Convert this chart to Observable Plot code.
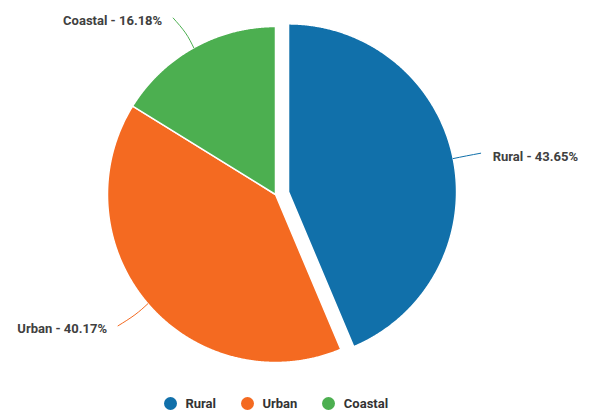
<!DOCTYPE html>
<html><head><meta charset="utf-8">
<script src="https://cdn.jsdelivr.net/npm/d3@7"></script>
<script src="https://cdn.jsdelivr.net/npm/@observablehq/plot@0.6"></script>
<style>
body{margin:0;background:#fff;font-family:Roboto,"Noto Sans",sans-serif}
#legend{display:flex;justify-content:center;align-items:center;width:552px;height:20px;margin-top:15px;font-weight:bold;font-size:13px;color:#333}
.item{display:flex;align-items:center;margin:0 12.5px}
.dot{width:13px;height:13px;border-radius:50%;margin-right:8.5px}
</style>
</head><body><div id="chart"></div><div id="legend"></div><script>
const categories = ["Rural", "Urban", "Coastal"];
const shares = [43.65, 40.17, 16.18];
const colors = ["#1170aa", "#f46a21", "#4caf50"];
const exploded = ["Rural"];

const W = 592, H = 378, CX = 275, CY = 194, R = 168, OFFSET = 13.3;
const pie = d3.pie().sort(null).value(d => d)(shares);

const slices = [], connectors = [], labels = [];
pie.forEach((p, i) => {
  const cat = categories[i];
  const mid = (p.startAngle + p.endAngle) / 2;
  const off = exploded.includes(cat) ? OFFSET / R : 0;
  const ox = off * Math.sin(mid), oy = off * Math.cos(mid);
  const pt = (a, rr) => ({x: ox + rr * Math.sin(a), y: oy + rr * Math.cos(a)});
  slices.push({cat, ...pt(0, 0)});
  const n = Math.ceil((p.endAngle - p.startAngle) / 0.005);
  for (let k = 0; k <= n; k++) {
    const a = p.startAngle + (p.endAngle - p.startAngle) * k / n;
    slices.push({cat, ...pt(a, 1)});
  }
  const side = Math.sin(mid) >= 0 ? 1 : -1;
  const dist = side > 0 ? 27 : 34, tail = side > 0 ? 1 : 4;
  const e0 = pt(mid, 1), e1 = pt(mid, 1 + dist * 0.5 / R), e2 = pt(mid, 1 + dist / R);
  const end = {x: e2.x + side * tail / R, y: e2.y};
  [e0, e1, end].forEach(q => connectors.push({cat, ...q}));
  labels.push({cat, side, x: end.x, y: end.y, text: `${cat} - ${shares[i].toFixed(2)}%`});
});

const chart = Plot.plot({
  width: W, height: H,
  margin: 0,
  x: {domain: [-CX / R, (W - CX) / R], axis: null},
  y: {domain: [-(H - CY) / R, CY / R], axis: null},
  color: {domain: categories, range: colors},
  style: {background: "#fff", fontFamily: "Roboto, sans-serif"},
  marks: [
    Plot.line(slices, {x: "x", y: "y", z: "cat", fill: "cat", stroke: "white", strokeWidth: 1.5, curve: "linear-closed"}),
    Plot.line(connectors, {x: "x", y: "y", z: "cat", stroke: "cat", strokeWidth: 1, curve: "natural"}),
    Plot.text(labels.filter(d => d.side > 0), {x: "x", y: "y", text: "text", textAnchor: "start", dx: 12, dy: 4, fill: "#404040", fontSize: 13, fontWeight: "bold"}),
    Plot.text(labels.filter(d => d.side < 0), {x: "x", y: "y", text: "text", textAnchor: "end", dx: -11, dy: 3, fill: "#404040", fontSize: 13, fontWeight: "bold"})
  ]
});
document.getElementById("chart").appendChild(chart);

const legend = document.getElementById("legend");
categories.forEach((c, i) => {
  const it = document.createElement("div");
  it.className = "item";
  it.innerHTML = `<span class="dot" style="background:${colors[i]}"></span><span>${c}</span>`;
  legend.appendChild(it);
});
</script></body></html>
